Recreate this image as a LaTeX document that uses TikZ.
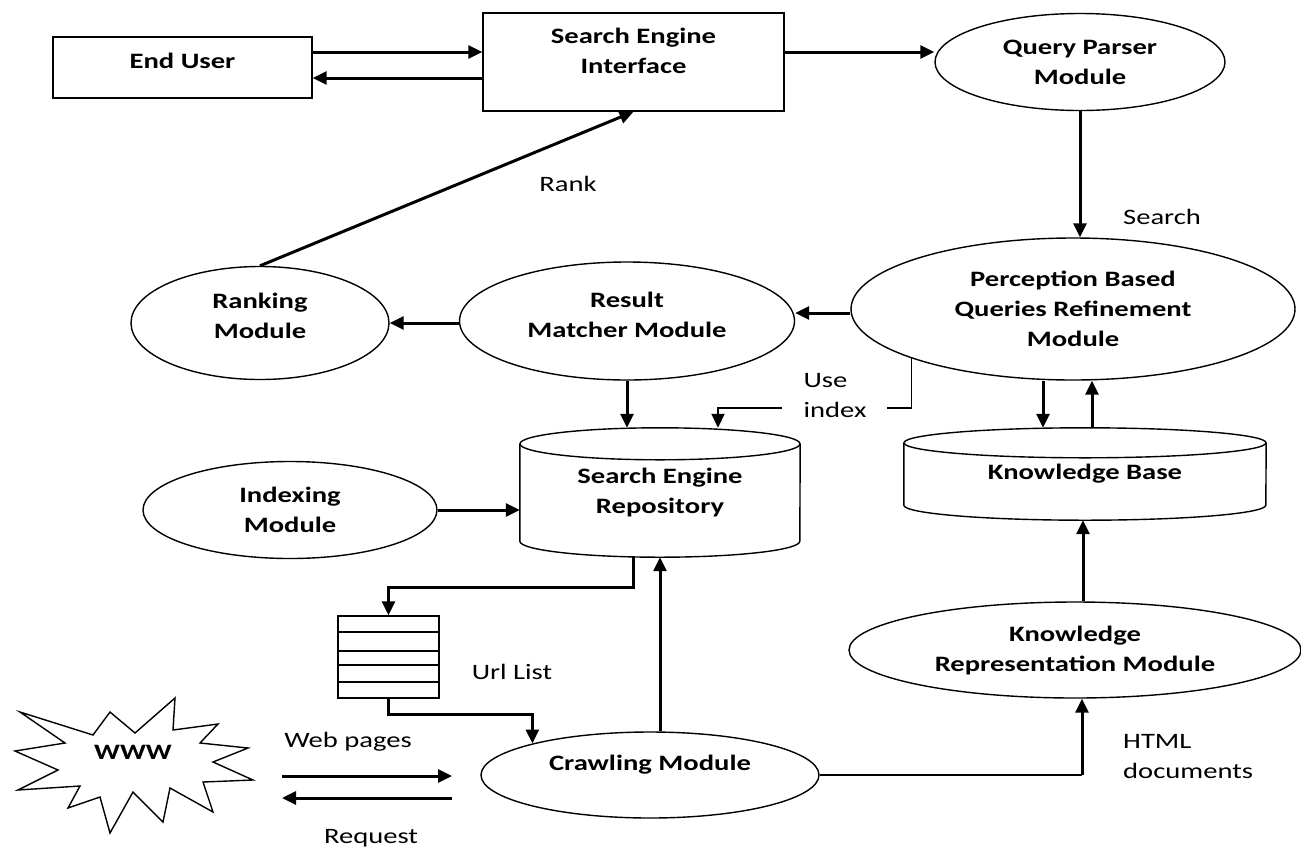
\documentclass[tikz,border=0pt]{standalone}
\usepackage{fontspec}
\setmainfont{Carlito}[FakeStretch=1.3]
\usetikzlibrary{arrows.meta,shapes.geometric}
\begin{document}
\begin{tikzpicture}[x=1pt,y=-1pt,
  every node/.style={font=\fontsize{22}{30}\selectfont},
  bfont/.style={font=\fontsize{22}{30}\selectfont\bfseries},
  shp/.style={line width=1.4pt},
  boxnode/.style={draw, shp, bfont, align=center, inner sep=0pt},
  oval/.style={ellipse, draw, shp, bfont, align=center, inner sep=0pt},
  cyl/.style={bfont, align=center, inner sep=0pt},
  lbl/.style={align=left, inner sep=0pt},
  arr/.style={line width=3pt, -{Triangle[length=14pt,width=13pt]}},
  tarr/.style={line width=1.8pt, -{Triangle[length=14pt,width=13pt]}},
  tline/.style={line width=1.8pt},
]
\useasboundingbox (0,0) rectangle (1301,847);

% ---------- nodes ----------
\node[boxnode, minimum width=259pt, minimum height=61pt,
      label={[bfont,yshift=7pt]center:End User}] (enduser) at (182.5,67.5) {};
\node[boxnode, minimum width=301pt, minimum height=98pt,
      label={[bfont,align=center,yshift=11pt]center:Search Engine\\Interface}] (sei) at (633.5,62) {};
\node[oval, minimum width=290pt, minimum height=97pt] (qp) at (1080,62) {Query Parser\\Module};
\node[oval, minimum width=444pt, minimum height=142pt] (perc) at (1073,309) {Perception Based\\Queries Refinement\\Module};
\node[oval, minimum width=335pt, minimum height=118pt,
      label={[bfont,align=center,yshift=6pt]center:Result\\Matcher Module}] (rm) at (627,321) {};
\node[oval, minimum width=258pt, minimum height=113pt,
      label={[bfont,align=center,yshift=7pt]center:Ranking\\Module}] (rank) at (260,323) {};
\node[oval, minimum width=294pt, minimum height=97pt] (idx) at (290,510) {Indexing\\Module};
\node[oval, minimum width=338pt, minimum height=86pt,
      label={[bfont,yshift=10pt]center:Crawling Module}] (crawl) at (650,775) {};
\node[oval, minimum width=452pt, minimum height=96pt] (krm) at (1075,650) {Knowledge\\Representation Module};

% cylinders
\node[cyl, minimum width=280pt, minimum height=129pt] (ser) at (660,492.5) {Search Engine\\Repository};
\draw[shp] ([yshift=-16pt]ser.north) ellipse [x radius=140pt, y radius=16pt];
\draw[shp] ([yshift=-16pt]ser.north west) -- ([yshift=16pt]ser.south west)
  arc[start angle=180, end angle=360, x radius=140pt, y radius=16pt]
  -- ([yshift=-16pt]ser.north east);

\node[cyl, minimum width=362pt, minimum height=92pt] (kb) at (1085,474) {Knowledge Base};
\draw[shp] ([yshift=-15pt]kb.north) ellipse [x radius=181pt, y radius=15pt];
\draw[shp] ([yshift=-15pt]kb.north west) -- ([yshift=15pt]kb.south west)
  arc[start angle=180, end angle=360, x radius=181pt, y radius=15pt]
  -- ([yshift=-15pt]kb.north east);

% url list
\node[draw, shp, minimum width=101pt, minimum height=82pt, inner sep=0pt] (url) at (388.5,657) {};
\foreach \yy in {632,651,665,682} {
  \draw[shp] (url.west |- 0,\yy) -- (url.east |- 0,\yy);
}

% WWW star
\node[bfont] (www) at (133,752) {WWW};
\draw[shp, line join=miter] (20,712) -- (93,735) -- (110,712) -- (135,733) -- (175,698) -- (173,730)
  -- (218,724) -- (200,743) -- (248,748) -- (213,762) -- (253,780) -- (203,782)
  -- (213,812) -- (170,788) -- (163,822) -- (133,792) -- (110,833) -- (100,797)
  -- (68,808) -- (80,786) -- (18,790) -- (58,770) -- (15,751) -- (65,743) -- cycle;

% labels
\node[lbl] (lrank) at (568,184) {Rank};
\node[lbl] (lsearch) at (1162,217) {Search};
\node[lbl] (luse) at (835,396) {Use\\index};
\node[lbl] (lurl) at (512,672) {Url List};
\node[lbl] (lweb) at (348,742) {Web pages};
\node[lbl] (lreq) at (371,838) {Request};
\node[lbl, anchor=west] (lhtml) at (1123,757) {HTML\\documents};

% ---------- connectors ----------
\draw[arr] (enduser.east |- 0,52) -- (sei.west |- 0,52);
\draw[arr] (sei.west |- 0,78) -- (enduser.east |- 0,78);
\draw[arr] (sei.east |- 0,52) -- (qp.west |- 0,52);
\draw[arr] (qp.south) -- (qp.south |- perc.north);
\draw[arr] (perc.west |- 0,313) -- (rm.east |- 0,313);
\draw[arr] (rm.west |- 0,323) -- (rank.east |- 0,323);
\draw[arr] (rank.north) -- (sei.south);
\draw[arr] (rm.south) -- (rm.south |- ser.north);

\coordinate (ui1) at (887,408);
\coordinate (ui2) at (782,408);
\draw[tline] (perc.197.6) -- (perc.197.6 |- ui1) -- (ui1);
\draw[tarr] (ui2) -| (ser.north -| 718,0);

\draw[arr] (perc.south -| 1043,0) -- (kb.north -| 1043,0);
\draw[arr] (kb.north -| 1092,0) -- (perc.south -| 1092,0);
\draw[arr] (idx.east) -- (ser.west |- idx.east);
\draw[arr] (ser.south -| 633,0) |- (388.5,587) -- (url.north);
\draw[arr] (url.south) -- ++(0,16) -| (crawl.165.3);
\draw[arr] (crawl.north -| 660,0) -- (ser.south -| 660,0);
\draw[tline] (crawl.east) -- (crawl.east -| 1082,0);
\draw[arr] (crawl.east -| 1082,0) -- (krm.south -| 1082,0);
\draw[arr] (krm.north -| 1083,0) -- (kb.south -| 1083,0);

\coordinate (wpa) at (282,776);
\coordinate (wpb) at (452,776);
\coordinate (rqa) at (452,798);
\coordinate (rqb) at (282,798);
\draw[arr] (wpa) -- (wpb);
\draw[arr] (rqa) -- (rqb);
\end{tikzpicture}
\end{document}
